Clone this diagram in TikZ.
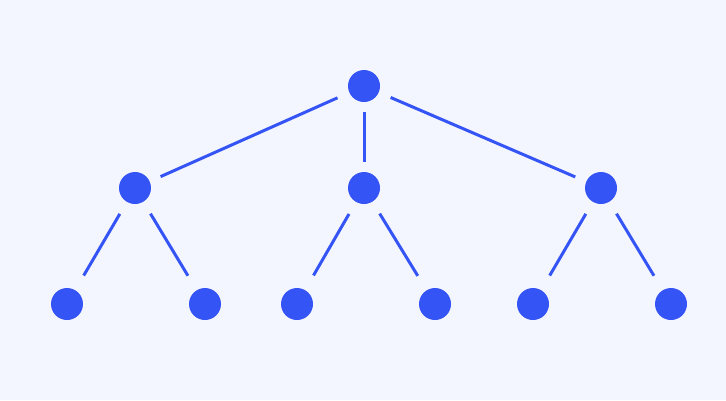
\documentclass[tikz,border=0pt]{standalone}
\usepackage{tikz}
\definecolor{treeblue}{RGB}{52,84,246}
\definecolor{paper}{RGB}{244,246,255}

\begin{document}
\begin{tikzpicture}[x=0.02cm, y=-0.02cm, line width=0.06cm]
  \tikzset{
    dot/.style={circle, fill=treeblue, inner sep=0pt, minimum size=0.64cm},
    edge/.style={draw=treeblue, shorten <=0.23cm, shorten >=0.21cm},
    stem/.style={draw=treeblue, shorten <=0.16cm, shorten >=0.17cm},
    twig/.style={draw=treeblue, shorten <=0.25cm, shorten >=0.31cm}
  }
  % Background
  \fill[paper] (0,0) rectangle (726,400);
  \useasboundingbox (0,0) rectangle (726,400);
  % Root
  \node[dot] (root) at (364,86) {};
  % Second level
  \node[dot] (l) at (135,188) {};
  \node[dot] (m) at (364,188) {};
  \node[dot] (r) at (601,188) {};
  % Leaves
  \node[dot] (ll) at (67,304) {};
  \node[dot] (lr) at (205,304) {};
  \node[dot] (ml) at (297,304) {};
  \node[dot] (mr) at (435,304) {};
  \node[dot] (rl) at (533,304) {};
  \node[dot] (rr) at (671,304) {};
  % Edges
  \draw[edge] (root) -- (l);
  \draw[stem] (root) -- (m);
  \draw[edge] (root) -- (r);
  \draw[twig] (l) -- (ll);
  \draw[twig] (l) -- (lr);
  \draw[twig] (m) -- (ml);
  \draw[twig] (m) -- (mr);
  \draw[twig] (r) -- (rl);
  \draw[twig] (r) -- (rr);
\end{tikzpicture}
\end{document}
